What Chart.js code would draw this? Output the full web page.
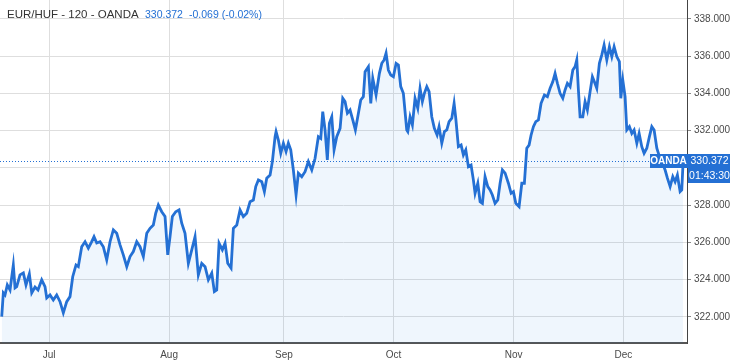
<!DOCTYPE html>
<html>
<head>
<meta charset="utf-8">
<script src="https://cdn.jsdelivr.net/npm/chart.js"></script>
<style>
  html, body { margin: 0; padding: 0; background: #fff; }
  #wrap { width: 730px; height: 363px; }
</style>
</head>
<body>
<div id="wrap"><canvas id="fxChart" width="730" height="363"></canvas></div>
<script>
// trading days counted from 1 Jul (weekends skipped, like the source chart)
var days = [-9.06,-8.75,-8.43,-7.99,-7.47,-6.84,-6.51,-6.19,-5.56,-4.92,-4.41,-3.77,-3.31,-2.68,-2.11,-1.40,-0.77,-0.44,0.19,0.82,
  1.47,2.11,2.74,3.39,4.02,4.54,5.17,5.61,6.26,6.90,7.53,8.18,8.62,9.14,9.77,10.40,11.05,11.69,12.32,12.97,
  13.60,14.23,14.89,15.52,16.15,16.80,17.43,18.07,18.72,19.35,19.98,20.44,20.94,21.59,22.22,22.74,23.18,23.62,24.27,24.90,
  25.42,26.05,26.69,27.34,27.97,28.60,29.25,29.89,30.52,31.17,31.67,32.12,32.57,33.20,33.72,34.23,34.87,35.31,35.96,36.59,
  37.22,37.87,38.51,39.14,39.60,40.10,40.75,41.25,41.70,42.34,42.78,43.30,43.49,43.93,44.39,44.89,45.40,45.84,46.30,46.80,
  47.32,47.76,48.41,49.04,49.67,50.33,50.96,51.59,52.05,52.43,52.87,53.31,53.70,54.16,54.60,55.11,55.75,56.26,56.70,57.15,
  57.66,58.18,58.68,59.20,59.71,60.21,60.54,61.17,61.63,62.01,62.64,63.28,63.74,64.18,64.56,65.00,65.46,65.96,66.48,66.92,
  67.37,67.87,68.52,68.72,69.16,69.60,70.11,70.63,71.07,71.51,71.90,72.36,72.80,73.31,73.81,74.33,74.71,75.23,75.73,76.19,
  76.63,77.15,77.59,77.91,78.41,78.93,79.37,79.83,80.33,80.84,81.28,81.61,82.13,82.57,83.01,83.52,84.04,84.48,84.92,85.44,
  85.96,86.40,86.84,87.36,87.99,88.51,88.95,89.41,90.04,90.56,91.05,91.51,91.95,92.34,92.78,93.24,93.74,94.25,94.89,95.46,
  95.98,96.49,96.93,97.38,97.89,98.41,98.85,99.29,99.81,100.33,100.77,101.09,101.40,101.72,102.24,102.68,103.12,103.64,104.08,104.46,
  104.92,105.42,105.88,106.32,106.84,107.34,107.80,108.24,108.75,109.25,109.52,109.90,110.34,110.67,111.17,111.63,112.07,112.59,113.03,113.54,
  113.98,114.50,115.00,115.46,115.90,116.42,116.92,117.38,118.01,118.45,118.97,119.48,119.92,120.36,120.88,121.20,121.46];

// EUR/HUF close
var prices = [322.02,323.29,323.18,323.72,323.45,324.79,323.56,323.63,324.26,324.36,323.72,324.31,323.29,323.61,323.45,323.99,323.63,323.02,323.18,322.91,
  323.18,322.82,322.22,322.82,323.09,324.16,324.79,324.70,325.77,326.04,325.69,326.04,326.31,325.97,326.04,325.77,325.06,326.04,326.67,326.49,
  325.87,325.33,324.70,325.24,325.51,326.04,325.77,325.24,326.49,326.76,326.94,327.57,328.01,327.65,327.39,325.33,326.31,327.39,327.65,327.75,
  327.03,326.49,324.88,325.60,326.31,324.26,324.88,324.70,323.99,324.35,323.36,323.45,325.96,325.60,325.96,324.88,324.62,326.76,326.94,327.75,
  327.39,327.57,328.19,328.28,329.00,329.36,329.26,328.73,329.45,329.62,330.34,331.68,331.95,331.50,330.79,331.33,330.88,331.33,330.97,329.89,
  328.55,329.72,329.53,329.80,330.34,329.89,330.52,331.68,331.59,333.02,332.04,330.43,332.40,332.75,330.97,331.68,332.13,333.74,333.56,332.94,
  333.11,332.58,332.04,332.85,333.65,333.83,335.17,335.44,333.47,334.82,333.92,335.08,335.62,335.80,336.16,335.26,334.99,334.90,335.62,335.53,
  334.37,334.01,332.04,331.95,332.75,332.31,333.74,333.21,334.28,333.56,334.01,334.37,334.10,332.75,332.13,331.77,332.22,331.33,331.95,332.04,
  332.49,332.67,333.47,332.67,331.14,331.23,330.70,330.97,330.07,330.16,329.36,328.64,329.18,328.19,328.10,329.53,329.00,328.82,328.55,328.10,
  328.28,329.18,329.89,329.72,329.18,328.64,328.73,328.10,327.92,329.18,329.18,331.06,331.23,331.77,332.22,332.49,332.58,333.47,333.92,333.83,
  334.28,334.63,335.08,334.55,334.01,333.74,334.19,334.55,334.37,335.26,335.44,335.80,334.19,332.75,332.75,333.56,333.11,334.10,334.90,334.63,
  334.28,335.62,336.07,336.60,335.80,336.51,335.98,336.51,335.98,335.71,333.74,334.72,333.83,332.04,332.22,331.86,332.04,331.33,331.86,331.14,
  330.79,331.06,331.68,332.22,332.04,331.06,330.61,330.34,329.89,329.45,329.00,329.53,329.26,329.62,328.73,328.82,330.37];

var monthDays = [0, 23, 45, 66, 89, 110];
var monthLabels = ["Jul", "Aug", "Sep", "Oct", "Nov", "Dec"];
var lastPrice = 330.372;
var change = "-0.069 (-0.02%)";
var timer = "01:43:30";

var points = days.map(function (d, i) { return { x: d, y: prices[i] }; });

var blue = "#2470d4";
var font = "'Liberation Sans', Arial, sans-serif";

// price line, title and the blue tags
var overlay = {
  id: "overlay",
  afterDatasetsDraw: function (chart) {
    var ctx = chart.ctx, a = chart.chartArea;
    var py = Math.round(chart.scales.y.getPixelForValue(lastPrice)) + 0.5;
    ctx.save();
    ctx.strokeStyle = blue;
    ctx.lineWidth = 1;
    ctx.setLineDash([1, 2]);
    ctx.beginPath();
    ctx.moveTo(a.left, py);
    ctx.lineTo(a.right, py);
    ctx.stroke();
    ctx.restore();
  },
  afterDraw: function (chart) {
    var ctx = chart.ctx, a = chart.chartArea;
    var py = Math.round(chart.scales.y.getPixelForValue(lastPrice));
    ctx.save();
    ctx.textBaseline = "middle";
    ctx.font = "11.5px " + font;
    ctx.fillStyle = "#333";
    ctx.fillText("EUR/HUF - 120 - OANDA", 7, 15);
    ctx.font = "10.5px " + font;
    ctx.fillStyle = blue;
    var p = lastPrice.toFixed(3);
    ctx.fillText(p, 145, 15);
    ctx.fillText(change, 145 + ctx.measureText(p).width + 6, 15);

    // OANDA tag at the end of the price line
    ctx.fillStyle = blue;
    ctx.fillRect(a.right - 37, py - 7, 37, 14);
    ctx.fillRect(a.right, py - 7, chart.width - a.right, 14);
    ctx.fillRect(a.right + 1, py + 7, chart.width - a.right - 1, 15);
    ctx.fillStyle = "#fff";
    ctx.font = "bold 10px " + font;
    ctx.textAlign = "center";
    ctx.fillText("OANDA", a.right - 18.5, py + 0.5);
    ctx.font = "10.5px " + font;
    ctx.fillText(p, (a.right + chart.width) / 2 + 1, py + 0.5);
    ctx.fillText(timer, (a.right + chart.width) / 2 + 1, py + 15);
    ctx.restore();
  }
};

var ctx = document.getElementById("fxChart").getContext("2d");
var chart = new Chart(ctx, {
  type: "line",
  data: {
    datasets: [
      {
        data: points,
        borderColor: blue,
        borderWidth: 2.8,
        backgroundColor: "rgba(33,130,230,0.07)",
        fill: "start",
        pointRadius: 0,
        tension: 0,
      },
    ],
  },
  options: {
    responsive: false,
    animation: false,
    layout: { padding: 0 },
    plugins: { legend: { display: false }, tooltip: { enabled: false } },
    scales: {
      x: {
        type: "linear",
        min: -9.39,
        max: 122.2,
        afterBuildTicks: function (scale) {
          scale.ticks = monthDays.map(function (v) { return { value: v }; });
        },
        afterFit: function (scale) {
          scale.height = 20;
          scale.paddingLeft = 0;
          scale.paddingRight = 0;
        },
        ticks: {
          padding: 6,
          color: "#4a4a4a",
          font: { family: font, size: 10 },
          maxRotation: 0,
          autoSkip: false,
          callback: function (v) { return monthLabels[monthDays.indexOf(v)]; },
        },
        grid: { color: "#dedede", drawTicks: false },
        border: { color: "#555", width: 2 },
      },
      y: {
        position: "right",
        min: 320.6,
        max: 339.02,
        afterBuildTicks: function (scale) {
          var t = [];
          for (var v = 322; v <= 338; v += 2) t.push({ value: v });
          scale.ticks = t;
        },
        afterFit: function (scale) {
          scale.width = 43;
          scale.paddingTop = 0;
          scale.paddingBottom = 0;
        },
        ticks: {
          padding: 3,
          color: "#4a4a4a",
          font: { family: font, size: 10 },
          callback: function (v) { return v.toFixed(3); },
        },
        grid: { color: "#dedede", tickColor: "#888", tickLength: 4 },
        border: { color: "#444", width: 1 },
      },
    },
  },
  plugins: [overlay],
});
</script>
</body>
</html>
